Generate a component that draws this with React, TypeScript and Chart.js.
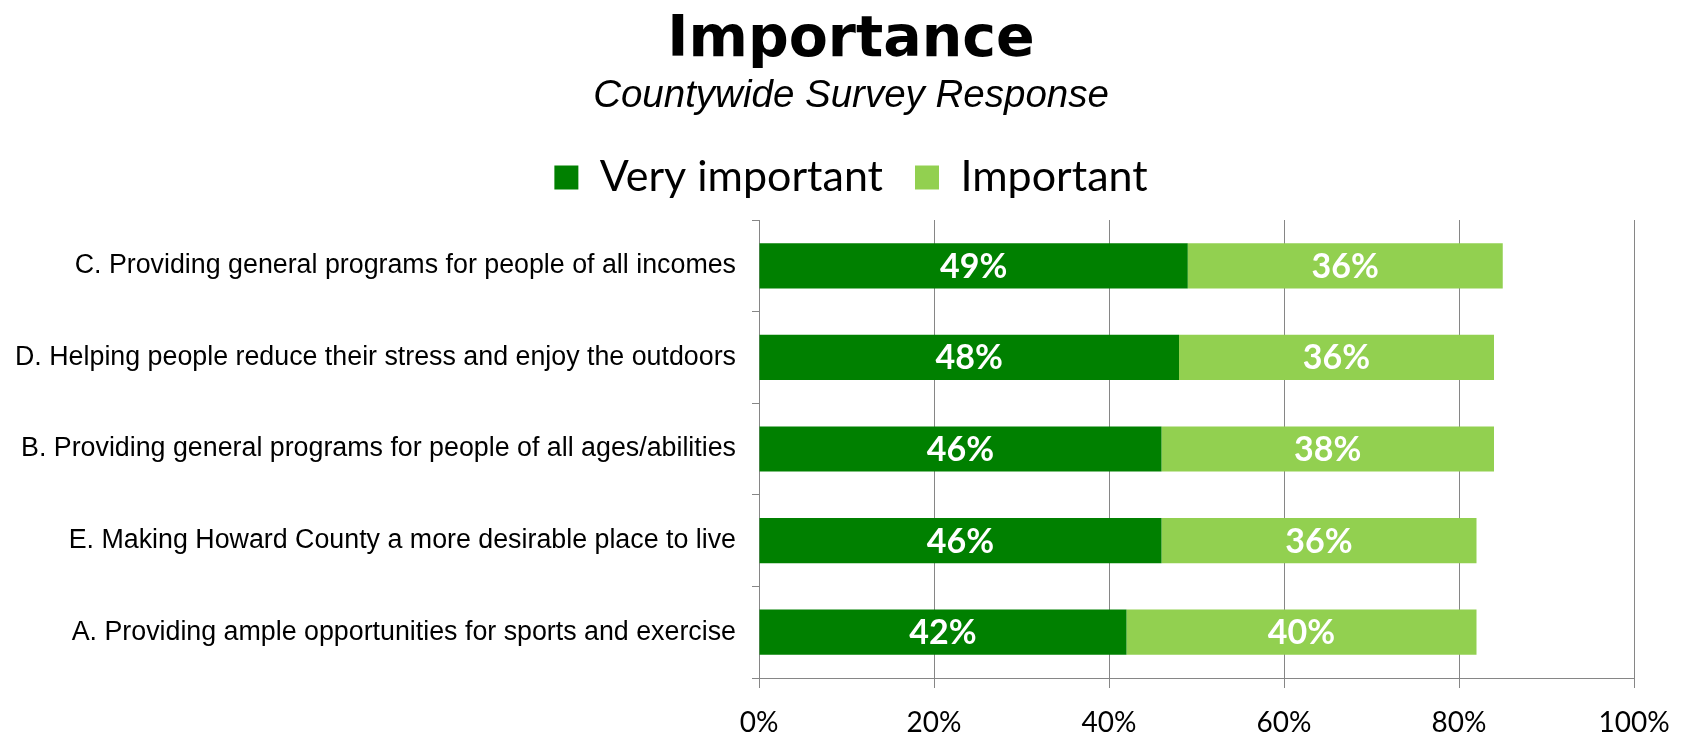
import React, { useEffect, useRef } from "react";
import { Chart, registerables } from "chart.js";

Chart.register(...registerables);

const categories = [
  "C. Providing general programs for people of all incomes",
  "D. Helping people reduce their stress and enjoy the outdoors",
  "B. Providing general programs for people of all ages/abilities",
  "E. Making Howard County a more desirable place to live",
  "A. Providing ample opportunities for sports and exercise",
];
const veryImportant = [49, 48, 46, 46, 42];
const important = [36, 36, 38, 36, 40];
const seriesNames = ["Very important", "Important"];
const xTicks = [0, 20, 40, 60, 80, 100];

const GRID = "#868686";

const barLabels = {
  id: "barLabels",
  afterDatasetsDraw(chart: any) {
    const { ctx } = chart;
    ctx.save();
    ctx.font = "bold 34px Lato";
    ctx.fillStyle = "#ffffff";
    ctx.textAlign = "center";
    ctx.textBaseline = "middle";
    chart.data.datasets.forEach((ds: any, i: number) => {
      const meta = chart.getDatasetMeta(i);
      meta.data.forEach((bar: any, j: number) => {
        const { x, y, base } = bar.getProps(["x", "y", "base"], true);
        ctx.fillText(ds.data[j] + "%", (x + base) / 2, y + 1);
      });
    });
    ctx.restore();
  },
};

const legendGap = {
  id: "legendGap",
  beforeLayout(chart: any) {
    const lg = chart.legend;
    if (lg && !lg._gapPatched) {
      const fit = lg.fit.bind(lg);
      lg.fit = function () {
        fit();
        this.height += 11;
      };
      lg._gapPatched = true;
    }
  },
};

export default function App() {
  const ref = useRef<HTMLCanvasElement>(null);
  useEffect(() => {
    document.body.style.margin = "0";
    const chart = new Chart(ref.current as HTMLCanvasElement, {
      type: "bar",
      data: {
        labels: categories,
        datasets: [
          {
            label: seriesNames[0],
            data: veryImportant,
            backgroundColor: "#008000",
            borderWidth: 0,
            categoryPercentage: 1,
            barPercentage: 0.493,
          },
          {
            label: seriesNames[1],
            data: important,
            backgroundColor: "#92D050",
            borderWidth: 0,
            categoryPercentage: 1,
            barPercentage: 0.493,
          },
        ],
      },
      options: {
        indexAxis: "y",
        animation: false,
        responsive: false,
        maintainAspectRatio: false,
        layout: { padding: 0 },
        plugins: {
          tooltip: { enabled: false },
          title: {
            display: true,
            text: "Importance",
            color: "#000",
            font: { family: "DejaVu Sans", size: 57, weight: "bold", lineHeight: 1 },
            padding: { top: 12.5, bottom: 0 },
          },
          subtitle: {
            display: true,
            text: "Countywide Survey Response",
            color: "#000",
            font: { family: "Liberation Sans", size: 38.5, style: "italic", lineHeight: 1 },
            padding: { top: 8, bottom: 8 },
          },
          legend: {
            display: true,
            position: "top",
            labels: {
              color: "#000",
              font: { family: "Lato", size: 43 },
              boxWidth: 24,
              boxHeight: 24,
              padding: 32,
            },
          },
        },
        scales: {
          x: {
            type: "linear",
            stacked: true,
            min: 0,
            max: 100,
            afterBuildTicks(scale: any) {
              scale.ticks = xTicks.map((v) => ({ value: v }));
            },
            afterFit(scale: any) {
              scale.height = 58;
            },
            ticks: {
              color: "#000",
              font: { family: "Lato", size: 28, lineHeight: 1 },
              padding: 21,
              callback: (v: any) => v + "%",
            },
            grid: { color: GRID, tickLength: 10, drawTicks: true },
            border: { color: GRID },
          },
          y: {
            stacked: true,
            afterFit(scale: any) {
              scale.width = 759;
            },
            ticks: {
              color: "#000",
              font: { family: "Liberation Sans", size: 26.8 },
              padding: 16,
            },
            grid: { color: GRID, drawOnChartArea: false, tickLength: 7, offset: true },
            border: { color: GRID },
          },
          yRight: {
            type: "linear",
            position: "right",
            display: true,
            afterFit(scale: any) {
              scale.width = 68;
            },
            ticks: { display: false },
            grid: { display: false, drawTicks: false },
            border: { display: false },
          },
        },
      },
      plugins: [barLabels, legendGap],
    });
    return () => chart.destroy();
  }, []);
  return (
    <div style={{ width: 1702, height: 736, background: "#fff" }}>
      <canvas ref={ref} width={1702} height={736} style={{ width: 1702, height: 736, display: "block" }} />
    </div>
  );
}
